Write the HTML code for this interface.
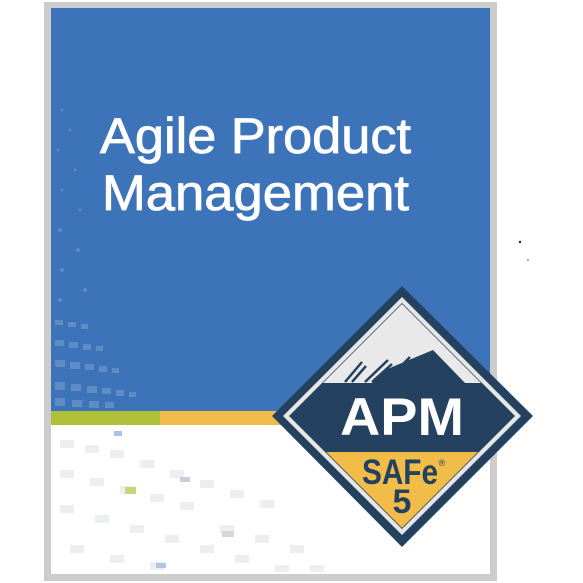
<!DOCTYPE html>
<html><head><meta charset="utf-8"><style>
html,body{margin:0;padding:0;background:#fff;}
svg{display:block;}
</style></head><body>
<svg width="583" height="583" viewBox="0 0 583 583" xmlns="http://www.w3.org/2000/svg">
<rect x="0" y="0" width="583" height="583" fill="#fff"/>
<rect x="44" y="2" width="453" height="579" fill="#cccccc"/>
<rect x="51" y="8" width="439" height="566" fill="#ffffff"/>
<rect x="51" y="8" width="439" height="403" fill="#3d73b9"/>
<g fill="#6f97cc" opacity="0.7">
<rect x="55" y="320" width="8" height="5"/><rect x="68" y="322" width="8" height="5"/><rect x="81" y="324" width="7" height="5"/>
<rect x="55" y="340" width="9" height="6"/><rect x="69" y="342" width="9" height="6"/><rect x="83" y="344" width="8" height="6"/><rect x="96" y="346" width="7" height="5"/>
<rect x="55" y="360" width="10" height="7"/><rect x="70" y="362" width="10" height="7"/><rect x="85" y="364" width="9" height="6"/><rect x="99" y="366" width="8" height="6"/><rect x="112" y="368" width="7" height="5"/>
<rect x="55" y="382" width="10" height="8"/><rect x="71" y="384" width="10" height="7"/><rect x="87" y="386" width="10" height="7"/><rect x="102" y="388" width="9" height="6"/><rect x="116" y="390" width="8" height="6"/><rect x="129" y="392" width="7" height="5"/>
<rect x="55" y="398" width="10" height="8"/><rect x="72" y="400" width="10" height="7"/><rect x="89" y="401" width="10" height="7"/><rect x="105" y="402" width="9" height="6"/>
</g>
<g fill="#5f8ac4">
<circle cx="62" cy="110" r="1.5"/><circle cx="70" cy="130" r="1.5"/><circle cx="58" cy="150" r="1.5"/><circle cx="75" cy="170" r="1.5"/><circle cx="62" cy="190" r="1.5"/><circle cx="80" cy="210" r="1.5"/><circle cx="60" cy="230" r="2"/><circle cx="78" cy="250" r="2"/><circle cx="62" cy="270" r="2"/><circle cx="85" cy="290" r="2"/><circle cx="60" cy="300" r="2"/>
</g>
<rect x="51" y="411" width="109" height="14" fill="#b0bf38"/>
<rect x="160" y="411" width="140" height="14" fill="#f2bc48"/>
<g fill="#eceef1">
<rect x="60" y="440" width="14" height="8"/><rect x="85" y="445" width="14" height="8"/><rect x="110" y="450" width="14" height="8"/><rect x="60" y="470" width="14" height="8"/><rect x="90" y="478" width="14" height="8"/><rect x="120" y="486" width="14" height="8"/><rect x="150" y="494" width="14" height="8"/><rect x="180" y="502" width="14" height="8"/><rect x="60" y="505" width="14" height="8"/><rect x="95" y="515" width="14" height="8"/><rect x="130" y="525" width="14" height="8"/><rect x="165" y="535" width="14" height="8"/><rect x="200" y="545" width="14" height="8"/><rect x="235" y="555" width="14" height="8"/><rect x="70" y="545" width="14" height="8"/><rect x="110" y="555" width="14" height="8"/><rect x="150" y="562" width="14" height="8"/><rect x="140" y="460" width="14" height="8"/><rect x="170" y="470" width="14" height="8"/><rect x="200" y="480" width="14" height="8"/><rect x="230" y="490" width="14" height="8"/><rect x="260" y="500" width="14" height="8"/><rect x="220" y="525" width="14" height="8"/><rect x="255" y="535" width="14" height="8"/><rect x="290" y="545" width="14" height="8"/><rect x="275" y="565" width="14" height="7"/><rect x="310" y="565" width="14" height="7"/>
</g>
<rect x="114" y="431" width="8" height="5" fill="#a9c4e2"/>
<rect x="125" y="487" width="11" height="7" fill="#c9d57a"/>
<rect x="180" y="477" width="10" height="5" fill="#c6d0da"/>
<rect x="222" y="531" width="12" height="6" fill="#d3d8de"/>
<rect x="156" y="563" width="10" height="5" fill="#b0c7e3"/>
<text x="100" y="153" fill="#fff" stroke="#fff" stroke-width="0.8" font-family="Liberation Sans, sans-serif" font-size="50" textLength="311" lengthAdjust="spacingAndGlyphs">Agile Product</text>
<text x="102" y="210" fill="#fff" stroke="#fff" stroke-width="0.8" font-family="Liberation Sans, sans-serif" font-size="50" textLength="307" lengthAdjust="spacingAndGlyphs">Management</text>
<circle cx="520" cy="242" r="1.2" fill="#222"/><circle cx="528" cy="260" r="0.8" fill="#444"/>
<defs><clipPath id="d"><polygon points="402,304 514,416 402,528 290,416"/></clipPath></defs>
<polygon points="402,286 533,416 402,547 272,416" fill="#24415f"/>
<polygon points="402,297 521,416 402,535 283,416" fill="#e6e6e6"/>
<polygon points="402,303 515,416 402,529 289,416" fill="#24415f"/>
<g clip-path="url(#d)">
<rect x="280" y="300" width="240" height="83" fill="#e9e9e9"/>
<polygon points="340,383 372,383 385,370 433,350 465,383" fill="#24415f"/>
<g stroke="#24415f" stroke-width="2.5">
<line x1="345" y1="382" x2="362" y2="362"/><line x1="352" y1="382" x2="366" y2="366"/>
<line x1="365" y1="382" x2="388" y2="360"/><line x1="372" y1="382" x2="392" y2="364"/>
<line x1="385" y1="382" x2="410" y2="357"/><line x1="392" y1="382" x2="414" y2="361"/>
</g>
<rect x="280" y="383" width="240" height="64" fill="#24415f"/>
<polygon points="326,452 478,452 402,528" fill="#f2bc48"/>
</g>
<text x="402" y="435" text-anchor="middle" fill="#fff" font-family="Liberation Sans, sans-serif" font-weight="bold" font-size="53" textLength="124" lengthAdjust="spacingAndGlyphs">APM</text>
<text x="400" y="484" text-anchor="middle" fill="#24415f" font-family="Liberation Sans, sans-serif" font-weight="bold" font-size="35" textLength="76" lengthAdjust="spacingAndGlyphs">SAFe</text>
<text x="442" y="466" text-anchor="middle" fill="#24415f" font-family="Liberation Sans, sans-serif" font-size="9">®</text>
<text x="402" y="513" text-anchor="middle" fill="#24415f" font-family="Liberation Sans, sans-serif" font-weight="bold" font-size="34">5</text>
</svg>
</body></html>
